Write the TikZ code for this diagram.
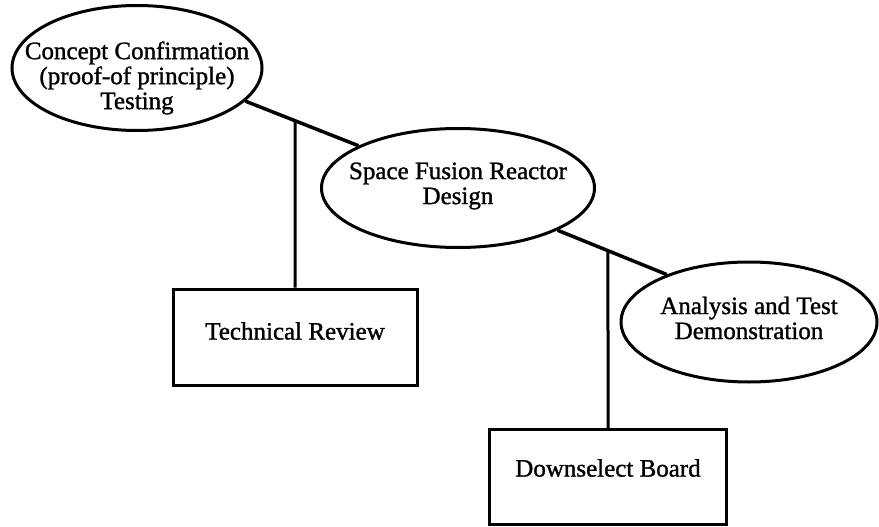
\documentclass[tikz,border=0pt]{standalone}
\usepackage{fontspec}
\setmainfont[FakeBold=1.2,AutoFakeBold=1.2]{Liberation Serif}
\usetikzlibrary{shapes.geometric}
\begin{document}
\begin{tikzpicture}[x=1pt,y=-1pt,
  oval/.style={draw=black,line width=3pt,ellipse,inner sep=0pt},
  boxnode/.style={draw=black,line width=3pt,rectangle,inner sep=0pt},
  lbl/.style={align=center,inner sep=0pt,font=\fontsize{25}{25}\selectfont\bfseries},
  link/.style={draw=black,line width=3.5pt}]
\useasboundingbox (0,0) rectangle (879,527);
% ellipses
\node[oval,minimum width=250pt,minimum height=125pt] (e1) at (137,68) {};
\node[lbl] (t1) at (137,78) {Concept Confirmation\\(proof-of principle)\\Testing};
\node[oval,minimum width=273pt,minimum height=119pt] (e2) at (458,188) {};
\node[lbl] (t2) at (458,186) {Space Fusion Reactor\\Design};
\node[oval,minimum width=256pt,minimum height=120pt] (e3) at (749,322) {};
\node[lbl] (t3) at (749,318) {Analysis and Test\\Demonstration};
% boxes
\node[boxnode,minimum width=244pt,minimum height=96pt] (tr) at (295,337) {};
\node[lbl] (t4) at (295,331) {Technical Review};
\node[boxnode,minimum width=237pt,minimum height=95pt] (db) at (608,477) {};
\node[lbl] (t5) at (608,468) {Downselect Board};
% connectors
\draw[link] (e1.-17.6) -- (e2.157.8);
\draw[link] (e2.-23.9) -- (e3.150.9);
\coordinate (j1) at (intersection of e1.-17.6--e2.157.8 and tr.north--tr.south);
\coordinate (j2) at (intersection of e2.-23.9--e3.150.9 and db.north--db.south);
\draw[link,line width=3pt] (j1) -- (tr.north);
\draw[link,line width=3pt] (j2) -- (db.north);
\end{tikzpicture}
\end{document}
